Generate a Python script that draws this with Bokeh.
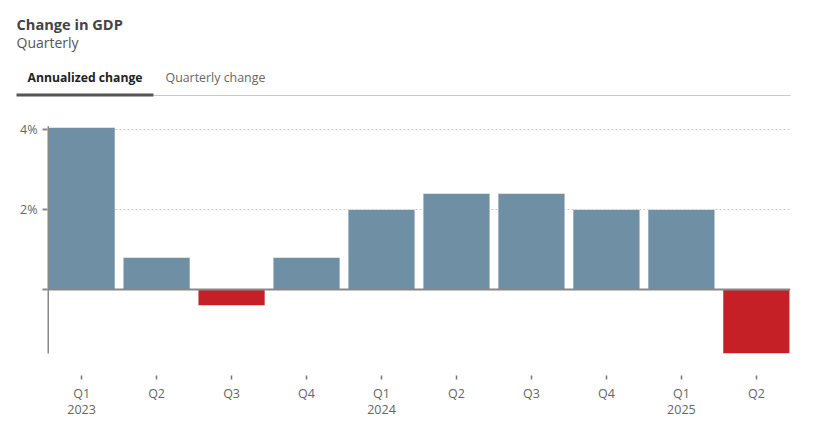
from bokeh.plotting import figure
from bokeh.layouts import column, row
from bokeh.models import Range1d, FixedTicker, ColumnDataSource, Span, LinearAxis
from bokeh.core.properties import value
from bokeh.embed import file_html
from bokeh.resources import INLINE

quarters = ["Q1", "Q2", "Q3", "Q4", "Q1", "Q2", "Q3", "Q4", "Q1", "Q2"]
years = ["2023", "", "", "", "2024", "", "", "", "2025", ""]
annualized = [4.05, 0.8, -0.4, 0.8, 2.0, 2.4, 2.4, 2.0, 2.0, -1.6]
y_ticks = [0, 2, 4]
y_tick_labels = {0: "", 2: "2%", 4: "4%"}

FONT = "Open Sans"
W = 816
HH = 100                         # header height
FL, FR, FT, FB = 47, 790, 125, 375   # chart frame edges on the page

# ---------- header (page coordinates, y downward) ----------
h = figure(frame_width=W, frame_height=HH, x_range=Range1d(0, W), y_range=Range1d(HH, 0),
           output_backend="svg", toolbar_location=None, min_border=0,
           x_axis_location=None, y_axis_location=None)
h.grid.visible = False
h.outline_line_color = None


def add_text(px, py, text, size, color, style="normal"):
    h.text(x=[px], y=[py], text=[text], text_font=value(FONT), text_font_style=style,
           text_font_size=size, text_color=color, text_baseline="alphabetic", text_align="left")


add_text(16, 23, "Change in GDP", "14.6px", "#444444", "bold")
add_text(16, 42, "Quarterly", "14px", "#555555")
add_text(27, 77, "Annualized change", "12.2px", "#222222", "bold")
add_text(165, 77, "Quarterly change", "12.4px", "#666666")
h.segment(x0=[153], y0=[95], x1=[790], y1=[95], line_color="#c8c8c8", line_width=1)
h.segment(x0=[16], y0=[94.5], x1=[153], y1=[94.5], line_color="#555555", line_width=3)

# ---------- chart ----------
xs = list(range(len(quarters)))
colors = ["#6f8fa4" if v >= 0 else "#c42026" for v in annualized]
src = ColumnDataSource(dict(x=xs, top=annualized, color=colors))

p = figure(frame_width=FR - FL, frame_height=FB - FT,
           x_range=Range1d(-0.455, 9.455), y_range=Range1d(-2.15, 4.1),
           output_backend="svg", toolbar_location=None,
           min_border_left=FL, min_border_right=W - FR, min_border_top=FT - HH,
           min_border_bottom=0)
p.outline_line_color = None

p.xgrid.visible = False
p.ygrid.ticker = FixedTicker(ticks=[2, 4])
p.ygrid.grid_line_color = "#c8c8c8"
p.ygrid.grid_line_dash = "2 2"
p.ygrid.grid_line_width = 1

p.vbar(x="x", top="top", bottom=0, width=0.89, color="color", line_color="white",
       line_width=0.5, source=src)

p.add_layout(Span(location=0, dimension="width", line_color="#888888", line_width=2))
p.segment(x0=[-0.455], y0=[-1.6], x1=[-0.455], y1=[4.08], line_color="#888888", line_width=3)

p.yaxis.ticker = FixedTicker(ticks=y_ticks)
p.yaxis.major_label_overrides = y_tick_labels
p.yaxis.axis_line_color = None
p.yaxis.major_tick_line_color = "#888888"
p.yaxis.major_tick_line_width = 2
p.yaxis.major_tick_in = 0
p.yaxis.major_tick_out = 5
p.yaxis.minor_tick_line_color = None
p.yaxis.major_label_text_font = FONT
p.yaxis.major_label_text_font_size = "12.5px"
p.yaxis.major_label_text_color = "#666666"
p.yaxis.major_label_standoff = 5


def style_x(ax):
    ax.axis_line_color = None
    ax.minor_tick_line_color = None
    ax.major_tick_in = 0
    ax.major_label_text_font = FONT
    ax.major_label_text_font_size = "12.5px"
    ax.major_label_text_color = "#666666"


qax = p.xaxis[0]
qax.ticker = FixedTicker(ticks=xs)
qax.major_label_overrides = {i: q for i, q in enumerate(quarters)}
style_x(qax)
qax.major_tick_line_color = "#777777"
qax.major_tick_line_width = 1.5
qax.major_tick_out = 4
qax.major_label_standoff = 5

year_pos = [i for i, y in enumerate(years) if y]
yax = LinearAxis(ticker=FixedTicker(ticks=year_pos),
                 major_label_overrides={i: years[i] for i in year_pos})
style_x(yax)
yax.major_tick_line_color = None
yax.major_tick_out = 0
yax.major_label_standoff = 0
p.add_layout(yax, "below")

layout = column(row(h), p, spacing=0)
open("out.html", "w").write(file_html(layout, INLINE))
